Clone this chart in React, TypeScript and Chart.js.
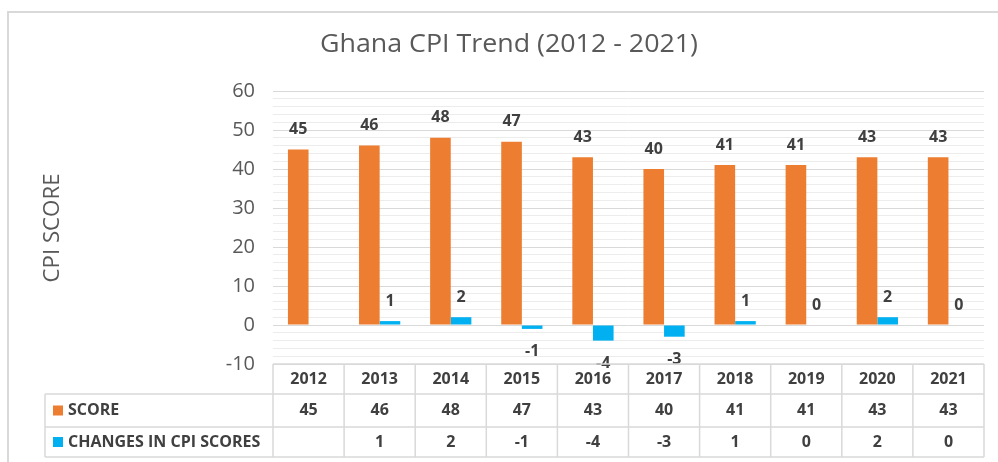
import React, { useEffect, useRef } from "react";
import { Chart, registerables } from "chart.js";

Chart.register(...registerables);

const categories = ["2012", "2013", "2014", "2015", "2016", "2017", "2018", "2019", "2020", "2021"];
const scoreValues = [45, 46, 48, 47, 43, 40, 41, 41, 43, 43];
const changeValues: (number | null)[] = [null, 1, 2, -1, -4, -3, 1, 0, 2, 0];
const seriesNames = ["SCORE", "CHANGES IN CPI SCORES"];
const yMin = -10;
const yMax = 60;
const yMajorStep = 10;
const yMinorStep = 2;
const chartTitle = "Ghana CPI Trend (2012 - 2021)";
const yAxisTitle = "CPI SCORE";

const ORANGE = "#ED7D31";
const BLUE = "#00B0F0";
const FONT = "'Open Sans', 'DejaVu Sans', sans-serif";

const decorPlugin = {
  id: "decor",
  beforeDraw(chart: any) {
    const ctx = chart.ctx;
    ctx.save();
    ctx.fillStyle = "#ffffff";
    ctx.fillRect(0, 0, chart.width, chart.height);
    ctx.strokeStyle = "#d9d9d9";
    ctx.lineWidth = 2;
    ctx.beginPath();
    ctx.moveTo(8, chart.height + 5);
    ctx.lineTo(8, 12);
    ctx.lineTo(chart.width + 5, 12);
    ctx.stroke();
    ctx.restore();
  },
  afterDraw(chart: any) {
    const ctx = chart.ctx;
    const area = chart.chartArea;
    const xs = chart.scales.x;
    ctx.save();
    // title
    ctx.fillStyle = "#595959";
    ctx.font = `25px ${FONT}`;
    ctx.textAlign = "center";
    ctx.textBaseline = "middle";
    const tw = ctx.measureText(chartTitle).width;
    ctx.save();
    ctx.translate(509, 45);
    ctx.scale(378 / tw, 1);
    ctx.fillText(chartTitle, 0, 0);
    ctx.restore();
    // y title
    ctx.save();
    ctx.translate(53, 228);
    ctx.rotate(-Math.PI / 2);
    ctx.font = `22px ${FONT}`;
    const yw = ctx.measureText(yAxisTitle).width;
    ctx.scale(109 / yw, 1);
    ctx.fillText(yAxisTitle, 0, 0);
    ctx.restore();

    // data labels
    ctx.fillStyle = "#404040";
    ctx.font = `bold 16px ${FONT}`;
    chart.data.datasets.forEach((ds: any, di: number) => {
      const meta = chart.getDatasetMeta(di);
      meta.data.forEach((el: any, i: number) => {
        const v = ds.data[i];
        if (v === null || v === undefined) return;
        const y = v >= 0 ? el.y - 20 : el.y + 23;
        ctx.fillText(String(v), el.x, y);
      });
    });

    // data table
    const n = categories.length;
    const w = (area.right - area.left) / n;
    const top = area.bottom;
    const r1 = top + 30;
    const r2 = top + 63;
    const r3 = top + 93;
    const legendLeft = 45;
    ctx.strokeStyle = "#d9d9d9";
    ctx.lineWidth = 1.5;
    ctx.beginPath();
    ctx.moveTo(area.left, top);
    ctx.lineTo(area.right, top);
    [r1, r2, r3].forEach((y) => {
      ctx.moveTo(legendLeft, y);
      ctx.lineTo(area.right, y);
    });
    ctx.moveTo(legendLeft, r1);
    ctx.lineTo(legendLeft, r3);
    for (let i = 0; i <= n; i++) {
      const x = area.left + i * w;
      ctx.moveTo(x, top);
      ctx.lineTo(x, r3);
    }
    ctx.stroke();

    ctx.fillStyle = "#404040";
    ctx.font = `bold 16px ${FONT}`;
    ctx.textAlign = "center";
    categories.forEach((c, i) => {
      const x = xs.getPixelForValue(i);
      ctx.fillText(c, x, (top + r1) / 2);
      ctx.fillText(String(scoreValues[i]), x, (r1 + r2) / 2);
      const cv = changeValues[i];
      if (cv !== null) ctx.fillText(String(cv), x, (r2 + r3) / 2);
    });
    // legend keys
    const rows = [
      { y: (r1 + r2) / 2, color: ORANGE, text: seriesNames[0] },
      { y: (r2 + r3) / 2, color: BLUE, text: seriesNames[1] },
    ];
    rows.forEach((r) => {
      ctx.fillStyle = r.color;
      ctx.fillRect(53, r.y - 5, 10, 10);
      ctx.fillStyle = "#404040";
      ctx.textAlign = "left";
      ctx.fillText(r.text, 68, r.y);
    });
    ctx.restore();
  },
};

export default function App() {
  const ref = useRef<HTMLCanvasElement>(null);
  useEffect(() => {
    if (!ref.current) return;
    const chart = new Chart(ref.current, {
      type: "bar",
      data: {
        labels: categories,
        datasets: [
          {
            label: seriesNames[0],
            data: scoreValues,
            backgroundColor: ORANGE,
            categoryPercentage: 0.58,
            barPercentage: 1,
          },
          {
            label: seriesNames[1],
            data: changeValues,
            backgroundColor: BLUE,
            categoryPercentage: 0.58,
            barPercentage: 1,
          },
        ],
      },
      options: {
        responsive: false,
        animation: false,
        devicePixelRatio: 1,
        layout: { padding: { top: 91, right: 14, bottom: 98, left: 0 } },
        plugins: { legend: { display: false }, title: { display: false }, tooltip: { enabled: false } },
        scales: {
          x: { display: false, offset: true },
          y: {
            min: yMin,
            max: yMax,
            afterFit: (s: any) => {
              s.width = 273;
            },
            border: { display: false },
            grid: {
              drawTicks: false,
              color: (c: any) => (c.tick && c.tick.value % yMajorStep === 0 ? "#d9d9d9" : "#ececec"),
              lineWidth: 1,
            },
            ticks: {
              stepSize: yMinorStep,
              autoSkip: false,
              padding: 18,
              color: "#595959",
              font: { family: FONT, size: 20 },
              callback: (v: any) => (Number(v) % yMajorStep === 0 ? String(v) : ""),
            },
          },
        },
      },
      plugins: [decorPlugin],
    } as any);
    return () => chart.destroy();
  }, []);
  return (
    <div style={{ position: "fixed", left: 0, top: 0, width: 998, height: 462, background: "#fff" }}>
      <canvas ref={ref} width={998} height={462} />
    </div>
  );
}
